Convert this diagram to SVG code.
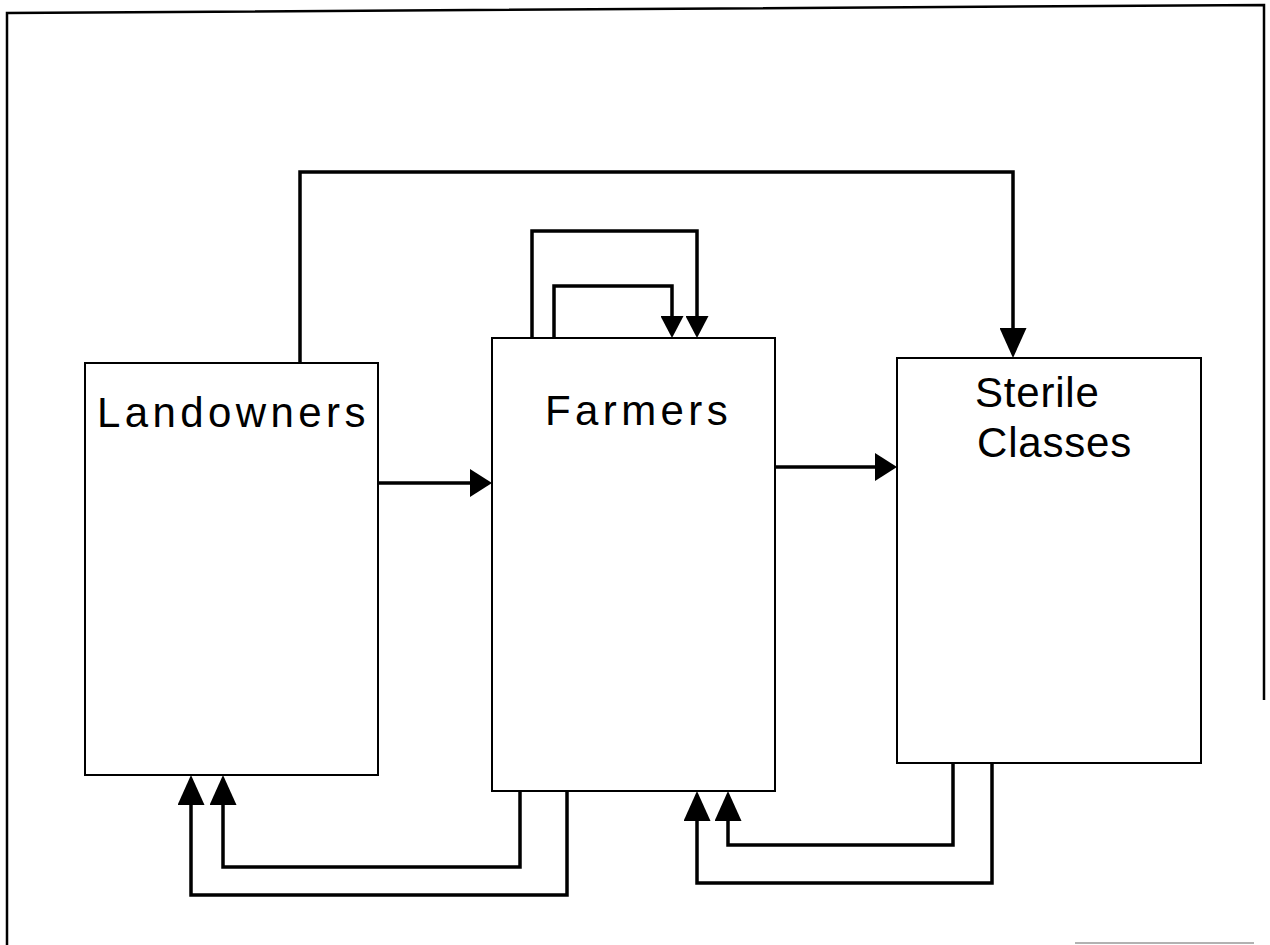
<svg xmlns="http://www.w3.org/2000/svg" width="1270" height="945" viewBox="0 0 1270 945">
<defs>
<style>
.frame{fill:none;stroke:#000;stroke-width:2.5}
.box{fill:#fff;stroke:#000;stroke-width:2}
.lbl{font-family:"Liberation Sans",Arial,sans-serif;font-size:42px;fill:#000;letter-spacing:4.4px}
.lbl2{letter-spacing:0.8px}
.conn{fill:none;stroke:#000;stroke-width:3.5;stroke-linejoin:miter}
</style>
<marker id="aL" markerUnits="userSpaceOnUse" viewBox="0 0 30 27" markerWidth="30" markerHeight="27" refX="24" refY="13.5" orient="auto"><path d="M0,0 L30,13.5 L0,27 Z" fill="#000"/></marker>
<marker id="aS" markerUnits="userSpaceOnUse" viewBox="0 0 22 23" markerWidth="22" markerHeight="23" refX="17" refY="11.5" orient="auto"><path d="M0,0 L22,11.5 L0,23 Z" fill="#000"/></marker>
<marker id="aM" markerUnits="userSpaceOnUse" viewBox="0 0 22 28" markerWidth="22" markerHeight="28" refX="16" refY="14" orient="auto"><path d="M0,0 L22,14 L0,28 Z" fill="#000"/></marker>
</defs>
<rect width="1270" height="945" fill="#fff"/>
<g id="frame">
<path class="frame" d="M7,945 L7,13 L1264,5 L1264,700"/>
<line x1="1075" y1="943" x2="1254" y2="943" stroke="#999" stroke-width="1.5"/>
</g>
<g id="landowners">
<rect class="box" x="85" y="363" width="293" height="412"/>
<text class="lbl" x="97" y="427">Landowners</text>
</g>
<g id="farmers">
<rect class="box" x="492" y="338" width="283" height="453"/>
<text class="lbl" x="545" y="425">Farmers</text>
</g>
<g id="sterile">
<rect class="box" x="897" y="358" width="304" height="405"/>
<text class="lbl lbl2" x="975" y="407">Sterile</text>
<text class="lbl lbl2" x="977" y="457">Classes</text>
</g>
<g id="connectors">
<path class="conn" d="M300,362 V172 H1013 V352" marker-end="url(#aL)"/>
<path class="conn" d="M532,338 V231 H697 V333" marker-end="url(#aS)"/>
<path class="conn" d="M554,338 V286 H672 V333" marker-end="url(#aS)"/>
<path class="conn" d="M378,483 H486" marker-end="url(#aM)"/>
<path class="conn" d="M775,467 H891" marker-end="url(#aM)"/>
<path class="conn" d="M520,792 V867 H223 V781" marker-end="url(#aL)"/>
<path class="conn" d="M567,792 V895 H191 V781" marker-end="url(#aL)"/>
<path class="conn" d="M953,762 V845 H728 V797" marker-end="url(#aL)"/>
<path class="conn" d="M992,762 V883 H697 V797" marker-end="url(#aL)"/>
</g>
</svg>
